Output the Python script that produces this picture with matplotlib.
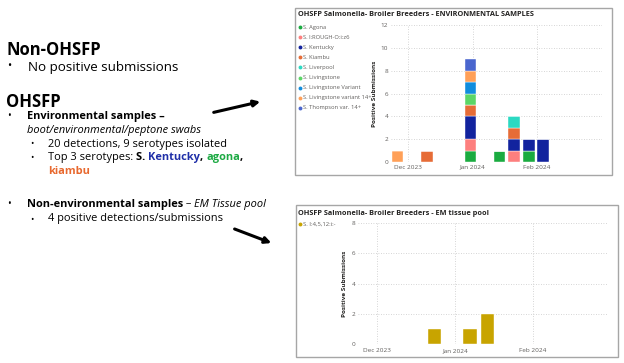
import matplotlib
matplotlib.use("Agg")
import matplotlib.pyplot as plt
import matplotlib.dates as mdates
from matplotlib.patches import Rectangle, FancyArrowPatch
from matplotlib.lines import Line2D
import numpy as np
import datetime as dt

# ---------------- data ----------------
env_serotypes = ["S. Agona", "S. I:ROUGH-O:i:z6", "S. Kentucky", "S. Kiambu", "S. Liverpool",
                 "S. Livingstone", "S. Livingstone Variant", "S. Livingstone variant 14+",
                 "S. Thompson var. 14+"]
env_colors = ["#1AAB40", "#FD7F7E", "#12239E", "#E66C37", "#2BD9C2",
              "#5BD667", "#118DDD", "#FFA058", "#4A66CE"]
env_weeks = ["2023-11-26", "2023-12-10", "2023-12-31", "2024-01-14", "2024-01-21", "2024-01-28", "2024-02-04"]
env_agona        = [0, 0, 1, 1, 0, 1, 0]
env_rough        = [0, 0, 1, 0, 1, 0, 0]
env_kentucky     = [0, 0, 2, 0, 1, 1, 2]
env_kiambu       = [0, 1, 1, 0, 1, 0, 0]
env_liverpool    = [0, 0, 0, 0, 1, 0, 0]
env_livingstone  = [0, 0, 1, 0, 0, 0, 0]
env_liv_variant  = [0, 0, 1, 0, 0, 0, 0]
env_liv_var14    = [1, 0, 1, 0, 0, 0, 0]
env_thompson     = [0, 0, 1, 0, 0, 0, 0]
env_series = [env_agona, env_rough, env_kentucky, env_kiambu, env_liverpool,
              env_livingstone, env_liv_variant, env_liv_var14, env_thompson]

em_serotypes = ["S. I:4,5,12:i:-"]
em_colors = ["#C8A400"]
em_weeks = ["2023-12-24", "2024-01-07", "2024-01-14"]
em_counts = [1, 1, 2]

month_ticks = ["2023-12-01", "2024-01-01", "2024-02-01"]
month_labels = ["Dec 2023", "Jan 2024", "Feb 2024"]

# ---------------- figure ----------------
W, H = 624, 363
fig = plt.figure(figsize=(W / 100, H / 100), dpi=100)
fig.patch.set_facecolor("white")
FONT = "Open Sans"
plt.rcParams["font.family"] = [FONT, "DejaVu Sans"]


def fx(x):
    return x / W


def fy(y):
    return 1 - y / H


def d(s):
    return mdates.date2num(dt.datetime.strptime(s, "%Y-%m-%d"))


# ---------------- left text ----------------
renderer = fig.canvas.get_renderer()


def seq_text(x, y, parts):
    """parts: list of (text, dict) placed one after the other"""
    cx = fx(x)
    for txt, kw in parts:
        t = fig.text(cx, fy(y), txt, va="center", ha="left", **kw)
        bb = t.get_window_extent(renderer=renderer)
        cx += bb.width / W


SUB = 7.9
fig.text(fx(6), fy(50), "Non-OHSFP", fontsize=12, fontweight="bold", va="center", color="black")
fig.text(fx(7), fy(67), "•", fontsize=8, va="center")
fig.text(fx(28), fy(67), "No positive submissions", fontsize=9.6, va="center")
fig.text(fx(6), fy(102), "OHSFP", fontsize=12, fontweight="bold", va="center")

fig.text(fx(7), fy(117), "•", fontsize=7, va="center")
fig.text(fx(27), fy(117), "Environmental samples –", fontsize=SUB, fontweight="bold", va="center")
fig.text(fx(27), fy(130), "boot/environmental/peptone swabs", fontsize=SUB, style="italic", va="center")
fig.text(fx(30), fy(144), "•", fontsize=6.5, va="center")
fig.text(fx(48), fy(144), "20 detections, 9 serotypes isolated", fontsize=SUB, va="center")
fig.text(fx(30), fy(158), "•", fontsize=6.5, va="center")
seq_text(48, 158, [("Top 3 serotypes: ", dict(fontsize=SUB)),
                   ("S. ", dict(fontsize=SUB, fontweight="bold")),
                   ("Kentucky", dict(fontsize=SUB, fontweight="bold", color="#1F2FA8")),
                   (", ", dict(fontsize=SUB, fontweight="bold")),
                   ("agona", dict(fontsize=SUB, fontweight="bold", color="#1DAA44")),
                   (",", dict(fontsize=SUB, fontweight="bold"))])
fig.text(fx(48), fy(172), "kiambu", fontsize=SUB, fontweight="bold", color="#E8692F", va="center")

fig.text(fx(7), fy(204), "•", fontsize=7, va="center")
seq_text(27, 204, [("Non-environmental samples", dict(fontsize=SUB, fontweight="bold")),
                   (" – ", dict(fontsize=SUB)),
                   ("EM Tissue pool", dict(fontsize=SUB, style="italic"))])
fig.text(fx(30), fy(219), "•", fontsize=6.5, va="center")
fig.text(fx(48), fy(219), "4 positive detections/submissions", fontsize=SUB, va="center")

# arrows
for (x0, y0, x1, y1) in [(211, 113, 263, 101), (232, 228, 274, 244)]:
    fig.add_artist(FancyArrowPatch((fx(x0), fy(y0)), (fx(x1), fy(y1)), transform=fig.transFigure,
                                   arrowstyle="-|>", mutation_scale=9, lw=2.2, color="black"))

# ---------------- chart boxes ----------------
for (l, t, r, b) in [(295, 8, 612, 175), (296, 205, 618, 357)]:
    fig.add_artist(Rectangle((fx(l), fy(b)), fx(r) - fx(l), fy(t) - fy(b), transform=fig.transFigure,
                             facecolor="white", edgecolor="#A6A6A6", lw=1.0, zorder=-5))

TICK_COL = "#605E5C"


def style_axes(ax, ylim, yticks, xl, xr):
    ax.set_facecolor("none")
    for s in ax.spines.values():
        s.set_visible(False)
    ax.set_ylim(*ylim)
    ax.set_yticks(yticks)
    ax.set_xlim(xl, xr)
    ax.set_xticks([d(m) for m in month_ticks])
    ax.set_xticklabels(month_labels)
    ax.tick_params(length=0, labelsize=4.6, colors=TICK_COL)
    ax.tick_params(axis="y", pad=2)
    ax.tick_params(axis="x", pad=2)
    ax.grid(True, linestyle=(0, (1, 2)), color="#C8C8C8", lw=0.6)
    ax.set_axisbelow(True)
    ax.set_ylabel("Positive Submissions", fontsize=4.6, fontweight="bold", color="#252423", labelpad=3)


# ---------------- top chart ----------------
axL, axR, axT, axB = 391, 602, 25, 162
ax1 = fig.add_axes([fx(axL), fy(axB), fx(axR) - fx(axL), fy(axT) - fy(axB)])
x_env = np.array([d(w) for w in env_weeks])
bottom = np.zeros(len(env_weeks))
for vals, col in zip(env_series, env_colors):
    v = np.array(vals, dtype=float)
    ax1.bar(x_env, v, bottom=bottom, width=5.6, color=col, edgecolor="white", linewidth=0.3, zorder=3)
    bottom += v
style_axes(ax1, (0, 12), [0, 2, 4, 6, 8, 10, 12], d("2023-11-22") + 0.8, d("2024-03-03") + 0.2)

fig.text(fx(298), fy(14), "OHSFP Salmonella- Broiler Breeders - ENVIRONMENTAL SAMPLES",
         fontsize=5.3, fontweight="bold", va="center", color="#252423")
for i, (name, col) in enumerate(zip(env_serotypes, env_colors)):
    yy = 27 + i * 10.1
    fig.add_artist(Line2D([fx(300)], [fy(yy)], marker="o", ms=2.8, color=col, mew=0,
                          transform=fig.transFigure))
    fig.text(fx(303), fy(yy), name, fontsize=4.15, va="center", color=TICK_COL)

# ---------------- bottom chart ----------------
bL, bR, bT, bB = 358, 608, 223, 344
ax2 = fig.add_axes([fx(bL), fy(bB), fx(bR) - fx(bL), fy(bT) - fy(bB)])
x_em = np.array([d(w) for w in em_weeks])
ax2.bar(x_em, em_counts, width=5.3, color=em_colors[0], edgecolor="white", linewidth=0.3, zorder=3)
style_axes(ax2, (0, 8), [0, 2, 4, 6, 8], d("2023-11-23") + 0.5, d("2024-03-01") + 0.8)
ax2.tick_params(axis="x", pad=3)

fig.text(fx(298), fy(213), "OHSFP Salmonella- Broiler Breeders - EM tissue pool",
         fontsize=5.3, fontweight="bold", va="center", color="#252423")
fig.add_artist(Line2D([fx(300)], [fy(224)], marker="o", ms=2.8, color=em_colors[0], mew=0,
                      transform=fig.transFigure))
fig.text(fx(303), fy(224), em_serotypes[0], fontsize=4.2, va="center", color=TICK_COL)

fig.savefig("out.png", dpi=100, facecolor="white")
